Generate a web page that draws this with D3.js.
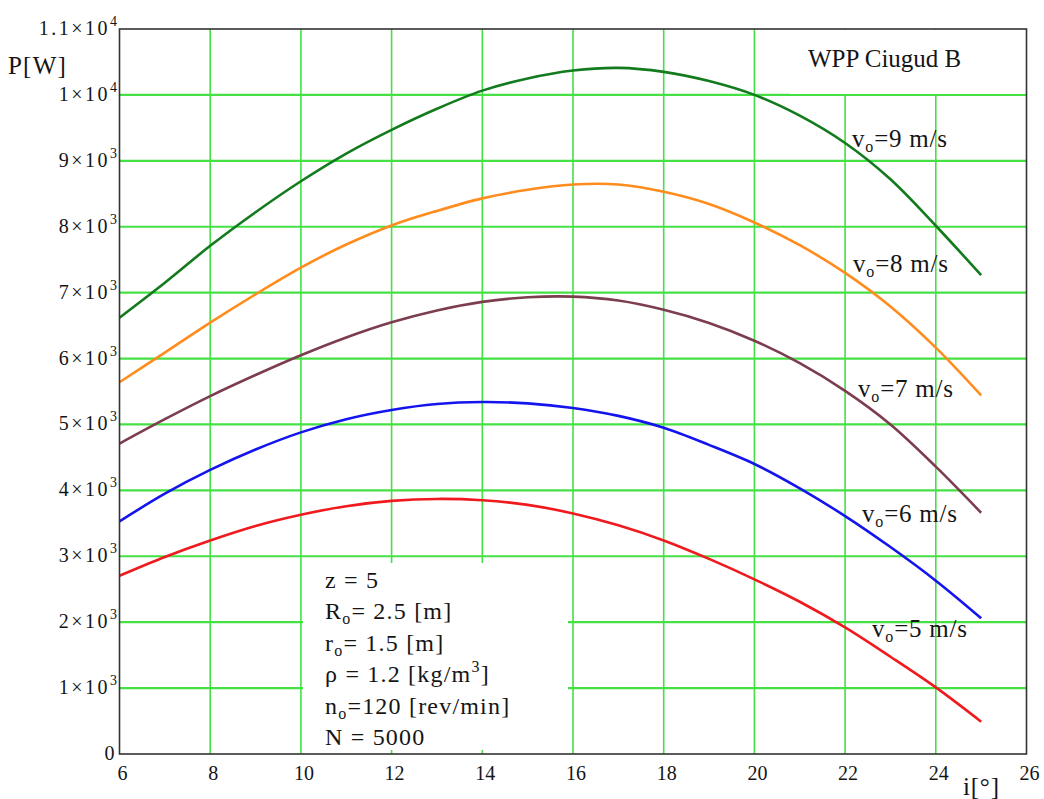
<!DOCTYPE html>
<html>
<head>
<meta charset="utf-8">
<script src="https://cdn.jsdelivr.net/npm/d3@7/dist/d3.min.js"></script>
<style>
    body { margin: 0; background: #ffffff; }
</style>
</head>
<body>
<svg id="chart"></svg>
<script>
// incidence angle i [deg]
const angles = [6, 7, 8, 9, 10, 11, 12, 13, 14, 15, 16, 17, 18, 19, 20, 21, 22, 23, 24, 25];

// power P [W] for each wind speed v_o
const power9 = [6620, 7150, 7710, 8220, 8690, 9110, 9470, 9790, 10065, 10250, 10370, 10410, 10350, 10210, 10000, 9685, 9270, 8720, 8015, 7265];
const power8 = [5640, 6090, 6545, 6975, 7380, 7730, 8020, 8240, 8430, 8560, 8640, 8640, 8530, 8345, 8065, 7720, 7300, 6790, 6165, 5440];
const power7 = [4710, 5080, 5430, 5750, 6050, 6320, 6550, 6730, 6860, 6930, 6940, 6880, 6740, 6540, 6270, 5930, 5510, 5000, 4360, 3660];
const power6 = [3530, 3950, 4310, 4620, 4880, 5080, 5220, 5310, 5340, 5320, 5250, 5130, 4950, 4690, 4400, 4030, 3610, 3140, 2630, 2060];
const power5 = [2705, 2990, 3240, 3460, 3630, 3760, 3840, 3870, 3850, 3780, 3650, 3470, 3240, 2960, 2650, 2310, 1920, 1475, 1010, 490];

const speeds = ['9', '8', '7', '6', '5'];

// tick labels
const xTicks = [6, 8, 10, 12, 14, 16, 18, 20, 22, 24, 26];
const yTicks = [0, 1000, 2000, 3000, 4000, 5000, 6000, 7000, 8000, 9000, 10000, 11000];
const yTickMantissa = ['0', '1×10', '2×10', '3×10', '4×10', '5×10', '6×10', '7×10', '8×10', '9×10', '1×10', '1.1×10'];
const yTickExponent = ['', '3', '3', '3', '3', '3', '3', '3', '3', '3', '4', '4'];

const titleText = 'WPP Ciugud B';
const xLabel = 'i[°]';
const yLabel = 'P[W]';

// parameter block: [text, shift] where shift is 'sub', 'sup' or ''
const paramLines = [
    [['z = 5', '']],
    [['R', ''], ['o', 'sub'], ['= 2.5 [m]', '']],
    [['r', ''], ['o', 'sub'], ['= 1.5 [m]', '']],
    [['ρ = 1.2 [kg/m', ''], ['3', 'sup'], [']', '']],
    [['n', ''], ['o', 'sub'], ['=120 [rev/min]', '']],
    [['N = 5000', '']]
];

const green = '#137a1e';
const orange = '#ff8c1c';
const brown = '#7c3d4e';
const blue = '#1414ee';
const red = '#f01a1e';
const gridGreen = '#44e044';
const serif = "'Liberation Serif', 'DejaVu Serif', serif";

function drawPowerPlot() {

    const svgWidth = 1044, svgHeight = 799;

    let svg = d3.select('#chart')
        .attr('width', svgWidth)
        .attr('height', svgHeight);

// Set the ranges
    let x = d3.scaleLinear().domain([6, 26]).range([119.5, 1026.5]);
    let y = d3.scaleLinear().domain([0, 11000]).range([754, 29]);

    const series = [power9, power8, power7, power6, power5];
    const colour = [green, orange, brown, blue, red];

// define the line
    const valueline = d3.line()
        .x(function (d, i) { return x(angles[i]); })
        .y(function (d) { return y(d); })
        .curve(d3.curveCatmullRom.alpha(0.5));

// grid
    svg.append('g')
        .selectAll('line')
        .data(xTicks.slice(1, -1))
        .enter().append('line')
        .attr('x1', d => x(d)).attr('x2', d => x(d))
        .attr('y1', y(11000)).attr('y2', y(0))
        .style('stroke', gridGreen)
        .style('stroke-width', 1.6);

    svg.append('g')
        .selectAll('line')
        .data(yTicks.slice(1, -1))
        .enter().append('line')
        .attr('x1', x(6)).attr('x2', x(26))
        .attr('y1', d => y(d)).attr('y2', d => y(d))
        .style('stroke', gridGreen)
        .style('stroke-width', 2.2);

// white boxes behind the title and the parameter block
    svg.append('rect')
        .attr('x', 790).attr('y', y(11000) + 1)
        .attr('width', x(26) - 791).attr('height', 64)
        .style('fill', '#ffffff');

    svg.append('rect')
        .attr('x', 303).attr('y', 563)
        .attr('width', 265).attr('height', 187)
        .style('fill', '#ffffff');

// curves
    svg.append('g')
        .selectAll('path')
        .data(series)
        .enter().append('path')
        .attr('d', valueline)
        .style('fill', 'none')
        .style('stroke', (d, i) => colour[i])
        .style('stroke-width', 2.6)
        .style('stroke-linejoin', 'round');

// frame
    svg.append('rect')
        .attr('x', x(6)).attr('y', y(11000))
        .attr('width', x(26) - x(6)).attr('height', y(0) - y(11000))
        .style('fill', 'none')
        .style('stroke', '#333333')
        .style('stroke-width', 1.6);

// text helper
    function label(px, py, size, anchor, spacing) {
        return svg.append('text')
            .attr('x', px).attr('y', py)
            .style('font-family', serif)
            .style('letter-spacing', (spacing || 0) + 'px')
            .attr('fill', '#151515')
            .attr('font-size', size + 'px')
            .attr('text-anchor', anchor);
    }

// Y axis tick labels
    yTicks.forEach(function (v, i) {
        let t = label(117, y(v) + 6, 20, 'end');
        t.append('tspan').style('letter-spacing', '2.5px').text(yTickMantissa[i]);
        if (yTickExponent[i]) {
            t.append('tspan')
                .attr('dy', -9)
                .attr('font-size', '14px')
                .text(yTickExponent[i]);
        }
    });

// X axis tick labels
    xTicks.forEach(function (v) {
        label(x(v) + 3, 780, 20, 'middle').text(v);
    });

// Labelling
    label(8, 74, 25, 'start', 1.2).text(yLabel);
    label(963, 795, 25, 'start', 0.8).text(xLabel);
    label(808, 67, 25, 'start').text(titleText);

// curve labels v_o = .. m/s
    const labelPos = [[852, 147], [853, 272], [858, 397], [862, 522], [872, 637]];
    speeds.forEach(function (s, i) {
        let t = label(labelPos[i][0], labelPos[i][1], 25, 'start', 0.8);
        t.append('tspan').text('v');
        t.append('tspan').attr('dy', 5).attr('font-size', '16px').text('o');
        t.append('tspan').attr('dy', -5).text('=' + s + ' m/s');
    });

// parameter block
    paramLines.forEach(function (line, i) {
        let t = label(325, 588 + i * 31.4, 24, 'start', 1.2);
        let shift = 0;
        line.forEach(function (part) {
            let target = part[1] === 'sub' ? 5 : (part[1] === 'sup' ? -10 : 0);
            let sp = t.append('tspan')
                .attr('dy', target - shift)
                .text(part[0]);
            if (part[1]) sp.attr('font-size', '16px');
            shift = target;
        });
    });
}

drawPowerPlot();
</script>
</body>
</html>
